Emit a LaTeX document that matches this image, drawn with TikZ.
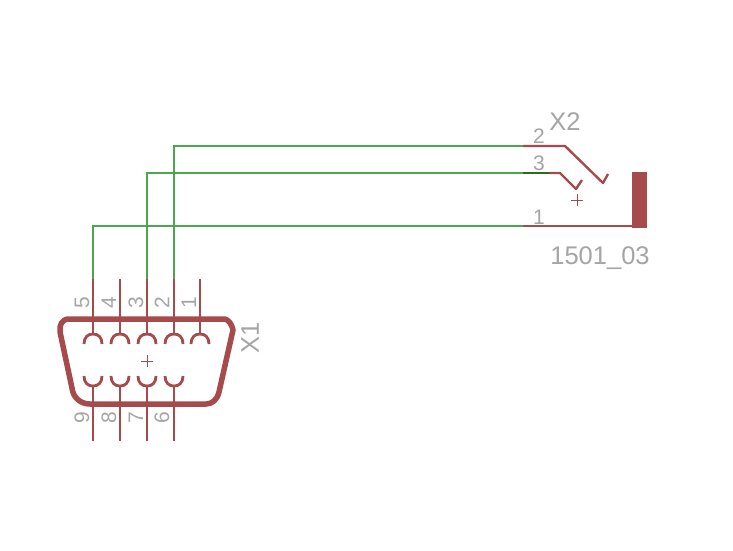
\documentclass[tikz,border=0pt]{standalone}
\usepackage{fontspec}
\setmainfont{Liberation Sans}
\definecolor{sym}{HTML}{A54B4B}
\definecolor{wire}{HTML}{4CA64F}
\definecolor{dwire}{HTML}{2F6B1F}
\definecolor{lbl}{HTML}{A5A5A5}
\tikzset{
  pinline/.style={draw=sym,line width=2.4pt},
  outline/.style={draw=sym,line width=5.5pt,line join=round},
  netline/.style={draw=wire,line width=2.2pt},
  cup/.style={draw=sym,line width=2.8pt},
  cross/.style={draw=sym,line width=1pt},
  pinnum/.style={text=lbl,font=\fontsize{21}{21}\selectfont,inner sep=0pt,rotate=90},
  hnum/.style={text=lbl,font=\fontsize{21}{21}\selectfont,inner sep=0pt},
  bignum/.style={text=lbl,font=\fontsize{25.5}{25}\selectfont,inner sep=0pt},
}
\begin{document}
\begin{tikzpicture}[x=1pt,y=-1pt]
\useasboundingbox (0,0) rectangle (733,550);
\fill[white] (0,0) rectangle (733,550);
% connector pin ends
\foreach \n/\x in {5/93,4/120,3/147,2/174,1/200}{
  \coordinate (t\n) at (\x,279);
  \coordinate (a\n) at (\x,334);
  \draw[pinline] (t\n) -- (a\n);
  \draw[cup] (\x-9,344) .. controls (\x-9,337) and (\x-5,334) .. (a\n) .. controls (\x+5,334) and (\x+9,337) .. (\x+9,344);
}
\foreach \n/\x in {9/93,8/120,7/147,6/174}{
  \coordinate (b\n) at (\x,441);
  \coordinate (c\n) at (\x,386);
  \draw[pinline] (b\n) -- (c\n);
  \draw[cup] (\x-9,376) .. controls (\x-9,383) and (\x-5,386) .. (c\n) .. controls (\x+5,386) and (\x+9,383) .. (\x+9,376);
}
\draw[outline] (69,319) -- (225,319) .. controls (229,320) and (232,325) .. (233,330) -- (219,392)
  .. controls (217,400) and (212,404) .. (206,404) -- (90,404)
  .. controls (81,404) and (73,398) .. (72,388) -- (60,332)
  .. controls (59,325) and (62,319) .. (69,319) -- cycle;
\draw[cross] (141,361) -- (153,361) (147,355) -- (147,367);
% pin numbers
\foreach \t/\x in {5/82,4/109,3/136,2/162,1/189}{
  \node[pinnum,anchor=center] (n\t) at (\x,303) {\t};
}
\foreach \t/\x in {9/82,8/109,7/136,6/162}{
  \node[pinnum,anchor=center] (n\t) at (\x,418) {\t};
}
\node[bignum,rotate=90] (x1) at (250,338) {X1};
% jack
\coordinate (j2) at (523,146);
\coordinate (j3) at (523,173);
\coordinate (j1) at (523,226);
\coordinate (s2) at (565,146);
\coordinate (s3) at (560,173);
\coordinate (body) at (632,226);
\draw[netline] (t2) |- (j2);
\draw[netline] (t3) |- (j3);
\draw[netline] (t5) |- (j1);
\draw[pinline,line join=round] (j2) -- (s2) -- (603,183) -- (608,174);
\draw[draw=dwire,line width=2.2pt] (j3) -- (550,173);
\draw[pinline,line join=round] (550,173) -- (s3) -- (576,189) -- (582,180);
\draw[pinline] (j1) -- (body);
\fill[sym] (632,172) rectangle (647,228);
\draw[cross] (571,200) -- (583,200) (577,194) -- (577,206);
\node[hnum] (l2) at (539,136) {2};
\node[hnum] (l3) at (539,163) {3};
\node[hnum] (l1) at (539,217) {1};
\node[bignum] (x2) at (565,122) {X2};
\node[bignum] (val) at (600,258) {1501\_03};
\end{tikzpicture}
\end{document}
